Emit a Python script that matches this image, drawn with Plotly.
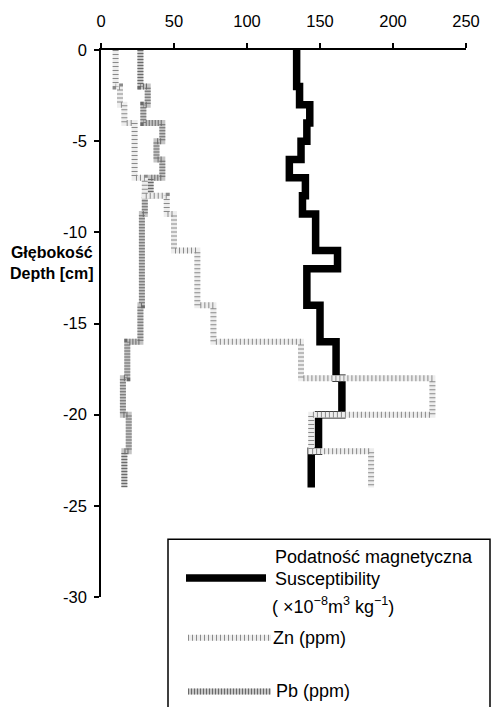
import plotly.graph_objects as go

# Depth intervals (cm, downward) and values for each profile
sus_edges = [0, 2, 3, 4, 5, 6, 7, 8, 9, 11, 12, 14, 16, 18, 20, 22, 24]
sus_vals = [134, 136, 143, 141, 137, 129, 140, 138, 147, 162, 141, 150, 161, 165, 149, 144]

zn_edges = [0, 2, 3, 4, 7, 8, 9, 11, 14, 16, 18, 20, 22, 24]
zn_vals = [10, 13, 16, 23, 30, 45, 50, 66, 77, 137, 227, 144, 185]

pb_edges = [0, 2, 3, 4, 5, 6, 7, 8, 9, 11, 14, 16, 18, 20, 22, 24]
pb_vals = [27, 32, 29, 42, 38, 42, 34, 30, 28, 28, 27, 18, 15, 19, 16]

x_ticks = [0, 50, 100, 150, 200, 250]
y_ticks = [0, -5, -10, -15, -20, -25, -30]
y_ticktext = ["0", "-5", "-10", "-15", "-20", "-25", "-30"]

FONT = "Arial, Liberation Sans, Helvetica, sans-serif"
W, H = 494, 707
ML, MR, MT, MB = 101, 28, 47, 110
PW, PH = W - ML - MR, H - MT - MB


def steps(edges, vals):
    xs = list(vals) + [vals[-1]]
    ys = [-e for e in edges]
    return xs, ys


def px(x):
    return (x - ML) / PW


def py(y):
    return (H - MB - y) / PH


ZN_BASE, ZN_DOT = "#ededed", "#8a8a8a"
PB_BASE, PB_DOT = "#c4c4c4", "#6a6a6a"

fig = go.Figure()

# Pb: textured grey band
x, y = steps(pb_edges, pb_vals)
fig.add_trace(go.Scatter(x=x, y=y, mode="lines", line_shape="vh",
                         line=dict(color=PB_BASE, width=6), showlegend=False))
fig.add_trace(go.Scatter(x=x, y=y, mode="lines", line_shape="vh",
                         line=dict(color=PB_DOT, width=6, dash="1px,2px"), showlegend=False))

# Magnetic susceptibility: thick black line
x, y = steps(sus_edges, sus_vals)
fig.add_trace(go.Scatter(x=x, y=y, mode="lines", line_shape="vh",
                         line=dict(color="black", width=7.5), showlegend=False))

# Zn: light textured band
x, y = steps(zn_edges, zn_vals)
fig.add_trace(go.Scatter(x=x, y=y, mode="lines", line_shape="vh",
                         line=dict(color=ZN_BASE, width=6), showlegend=False))
fig.add_trace(go.Scatter(x=x, y=y, mode="lines", line_shape="vh",
                         line=dict(color=ZN_DOT, width=6, dash="1px,3px"), showlegend=False))

axis_common = dict(showline=True, linecolor="black", linewidth=1.5,
                   ticks="outside", ticklen=5, tickwidth=1.5, tickcolor="black",
                   showgrid=False, zeroline=False,
                   tickfont=dict(family=FONT, size=16.5, color="black"))

fig.update_xaxes(range=[0, 250], side="top", tickvals=x_ticks,
                 ticklabelstandoff=10, **axis_common)
fig.update_yaxes(range=[-30, 0], tickvals=y_ticks, ticktext=y_ticktext,
                 ticklabelstandoff=4, **axis_common)

# Legend box drawn by hand
shapes = [
    dict(type="rect", xref="paper", yref="paper",
         x0=px(168), x1=px(490), y0=py(720), y1=py(539),
         line=dict(color="black", width=1.5), fillcolor="white", layer="above"),
    dict(type="line", xref="paper", yref="paper",
         x0=px(186), x1=px(266), y0=py(578), y1=py(578),
         line=dict(color="black", width=7.5), layer="above"),
]
for yy, base, dot, dash in [(638, ZN_BASE, ZN_DOT, "1px,3px"),
                            (692, PB_BASE, PB_DOT, "1px,2px")]:
    for col, d in [(base, "solid"), (dot, dash)]:
        shapes.append(dict(type="line", xref="paper", yref="paper",
                           x0=px(188), x1=px(271), y0=py(yy), y1=py(yy),
                           line=dict(color=col, width=6, dash=d), layer="above"))

legend_text = [
    (273, 557, "Podatność magnetyczna"),
    (273, 579, "Susceptibility"),
    (270, 606, "( ×10<sup>−8</sup>m<sup>3</sup> kg<sup>−1</sup>)"),
    (271, 638, "Zn (ppm)"),
    (274, 692, "Pb (ppm)"),
]
annotations = [dict(xref="paper", yref="paper", x=px(xx), y=py(yy),
                    text=t, showarrow=False, xanchor="left", yanchor="middle",
                    font=dict(family=FONT, size=18, color="black"))
               for xx, yy, t in legend_text]

# Axis title, written horizontally in two lines
annotations.append(dict(xref="paper", yref="paper", x=px(52), y=py(261),
                        text="<b>Głębokość<br>Depth [cm]</b>", showarrow=False,
                        xanchor="center", yanchor="middle", align="center",
                        font=dict(family=FONT, size=16, color="black")))

fig.update_layout(width=W, height=H,
                  margin=dict(l=ML, r=MR, t=MT, b=MB, pad=0),
                  paper_bgcolor="white", plot_bgcolor="white",
                  showlegend=False, shapes=shapes, annotations=annotations)

fig.write_html("out.html")
